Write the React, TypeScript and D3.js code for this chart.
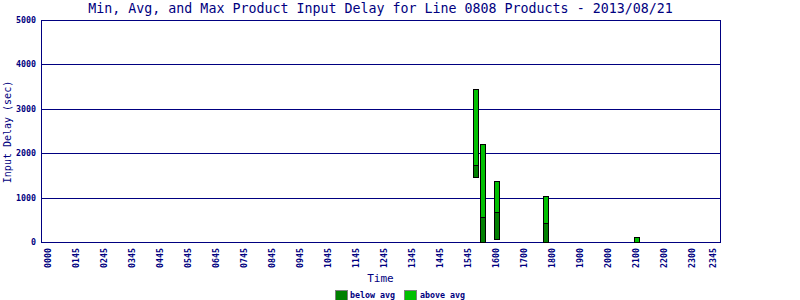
import React from "react";
import * as d3 from "d3";

const W = 800;
const H = 300;

const xTickSlots = [0, 4, 8, 12, 16, 20, 24, 28, 32, 36, 40, 44, 48, 52, 56, 60, 64, 68, 72, 76, 80, 84, 88, 92, 95];
const xTickLabels = [
  "0000", "0145", "0245", "0345", "0445", "0545", "0645", "0745", "0845", "0945",
  "1045", "1145", "1245", "1345", "1445", "1545", "1600", "1700", "1800", "1900",
  "2000", "2100", "2200", "2300", "2345",
];

const barSlots = [61, 62, 64, 71, 84];
const minValues = [1456, 0, 61, 0, 0];
const avgValues = [1733, 556, 675, 421, 0];
const maxValues = [3436, 2212, 1366, 1035, 106];

const yTicks = [0, 1000, 2000, 3000, 4000, 5000];

const NAVY = "#000080";
const DARK = "#008000";
const BRIGHT = "#00c000";
const MONO = "'DejaVu Sans Mono', 'Liberation Mono', monospace";

export default function App() {
  const left = 41;
  const right = 720;
  const top = 20;
  const bottom = 242;

  const x = d3.scaleLinear().domain([-1, 96]).range([left, right]);
  const y = d3.scaleLinear().domain([0, 5000]).range([bottom, top]);
  const py = (v: number) => Math.round(y(v)) + 0.5;

  const bars = barSlots.map((s, i) => ({
    x: x(s) - 1.5,
    min: minValues[i],
    avg: avgValues[i],
    max: maxValues[i],
  }));

  return (
    <svg
      width={W}
      height={H}
      style={{ position: "absolute", left: 0, top: 0, background: "#fff" }}
    >
      <rect x={0} y={0} width={W} height={H} fill="#fff" />
      <text
        x={(left + right) / 2}
        y={13}
        textAnchor="middle"
        fontFamily={MONO}
        fontSize={13.3}
        fill={NAVY}
      >
        Min, Avg, and Max Product Input Delay for Line 0808 Products - 2013/08/21
      </text>

      {yTicks.map((t) => (
        <g key={t}>
          <line x1={left} x2={right} y1={py(t)} y2={py(t)} stroke={NAVY} strokeWidth={1} />
          <text
            x={36}
            y={py(t)}
            dy="0.35em"
            textAnchor="end"
            fontFamily={MONO}
            fontSize={8.3}
            fontWeight="bold"
            fill={NAVY}
          >
            {t}
          </text>
        </g>
      ))}
      <line x1={left + 0.5} x2={left + 0.5} y1={top} y2={bottom + 1} stroke={NAVY} />
      <line x1={right + 0.5} x2={right + 0.5} y1={top} y2={bottom + 1} stroke={NAVY} />

      {bars.map((b, i) => (
        <g key={i}>
          {b.avg > b.min && (
            <rect
              x={b.x}
              y={py(b.avg)}
              width={5}
              height={py(b.min) - py(b.avg)}
              fill={DARK}
              stroke="#000"
              strokeWidth={1}
            />
          )}
          <rect
            x={b.x}
            y={py(b.max)}
            width={5}
            height={py(b.avg) - py(b.max)}
            fill={BRIGHT}
            stroke="#000"
            strokeWidth={1}
          />
        </g>
      ))}

      {xTickSlots.map((s, i) => (
        <text
          key={s}
          transform={`translate(${x(s) + 0.5},${248}) rotate(-90)`}
          dy="0.35em"
          textAnchor="end"
          fontFamily={MONO}
          fontSize={8.3}
          fontWeight="bold"
          fill={NAVY}
        >
          {xTickLabels[i]}
        </text>
      ))}

      <text
        x={(left + right) / 2}
        y={281.5}
        textAnchor="middle"
        fontFamily={MONO}
        fontSize={11}
        fill={NAVY}
      >
        Time
      </text>
      <text
        transform={`translate(11,132) rotate(-90)`}
        textAnchor="middle"
        fontFamily={MONO}
        fontSize={10}
        fill={NAVY}
      >
        Input Delay (sec)
      </text>

      <rect x={335.5} y={290.5} width={12} height={10} fill={DARK} stroke="#808080" />
      <text x={350} y={298} fontFamily={MONO} fontSize={8.3} fontWeight="bold" fill={NAVY}>
        below avg
      </text>
      <rect x={404.5} y={290.5} width={12} height={10} fill={BRIGHT} stroke="#808080" />
      <text x={420} y={298} fontFamily={MONO} fontSize={8.3} fontWeight="bold" fill={NAVY}>
        above avg
      </text>
    </svg>
  );
}
